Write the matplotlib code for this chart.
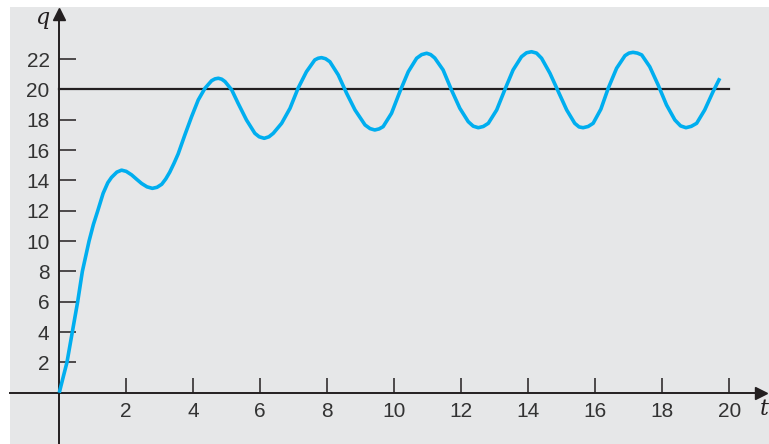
import numpy as np
import matplotlib.pyplot as plt

# curve
t_pts = [0, 0.12, 0.23, 0.39, 0.55, 0.69, 0.89, 1.02, 1.15, 1.31, 1.45, 1.56, 1.72, 1.86, 2.0, 2.16,
         2.31, 2.46, 2.62, 2.78, 2.92, 3.06, 3.18, 3.3, 3.43, 3.55, 3.75, 3.95, 4.15, 4.35, 4.55,
         4.65, 4.75, 4.85, 4.95, 5.15, 5.34, 5.59, 5.84, 5.97, 6.12, 6.26, 6.39, 6.64, 6.89, 7.13,
         7.38, 7.63, 7.73, 7.83, 7.95, 8.08, 8.33, 8.58, 8.83, 9.13, 9.28, 9.42, 9.55, 9.67, 9.92,
         10.17, 10.42, 10.67, 10.82, 10.97, 11.09, 11.21, 11.46, 11.71, 11.96, 12.21, 12.36, 12.51,
         12.66, 12.81, 13.06, 13.3, 13.55, 13.8, 13.95, 14.1, 14.25, 14.4, 14.65, 14.9, 15.15, 15.39,
         15.52, 15.64, 15.79, 15.94, 16.17, 16.39, 16.64, 16.89, 17.01, 17.13, 17.26, 17.39, 17.63,
         17.88, 18.13, 18.38, 18.55, 18.71, 18.87, 19.03, 19.27, 19.52, 19.72]
q_pts = [0, 1.05, 2, 4, 6, 8, 10, 11.1, 12, 13.15, 13.85, 14.2, 14.55, 14.68, 14.6, 14.37,
         14.08, 13.8, 13.58, 13.48, 13.55, 13.75, 14.1, 14.55, 15.15, 15.75, 17.0, 18.2, 19.31, 20.08, 20.58,
         20.7, 20.74, 20.68, 20.52, 19.97, 19.09, 17.99, 17.11, 16.88, 16.78, 16.88, 17.11, 17.77, 18.76, 20.08,
         21.17, 21.95, 22.06, 22.1, 22.03, 21.83, 20.96, 19.75, 18.65, 17.66, 17.42, 17.33, 17.4, 17.55, 18.43,
         19.86, 21.17, 22.06, 22.3, 22.39, 22.3, 22.08, 21.29, 19.97, 18.76, 17.88, 17.58, 17.48,
         17.56, 17.77, 18.65, 19.97, 21.29, 22.16, 22.42, 22.49, 22.4, 22.06, 21.07, 19.86, 18.65, 17.77,
         17.53, 17.48, 17.56, 17.77, 18.7, 20.08, 21.4, 22.23, 22.4, 22.45, 22.4, 22.28, 21.5,
         20.3, 18.98, 17.99, 17.6, 17.48, 17.57, 17.77, 18.65, 19.86, 20.74]

x_ticks = [2, 4, 6, 8, 10, 12, 14, 16, 18, 20]
y_ticks = [2, 4, 6, 8, 10, 12, 14, 16, 18, 20, 22]
q_level = 20

axis_col = '#231f20'
curve_col = '#00aeef'
bg_col = '#e6e7e8'

fig = plt.figure(figsize=(7.69, 4.44), dpi=100, facecolor='white')
ax = fig.add_axes([10/769, 0, 759/769, 437/444], facecolor=bg_col)
ax.set_xlim(-1.47, 21.19)
ax.set_ylim(-3.38, 25.44)

plt.rcParams['font.family'] = ['Liberation Sans', 'DejaVu Sans']

ax.plot([0, 20], [q_level, q_level], color=axis_col, lw=1.6, zorder=2)
ax.plot(t_pts, q_pts, color=curve_col, lw=2.6, solid_capstyle='butt',
        solid_joinstyle='round', zorder=3)

for s in ['top', 'right']:
    ax.spines[s].set_visible(False)
ax.spines['left'].set_position(('data', 0))
ax.spines['bottom'].set_position(('data', 0))
ax.spines['left'].set_bounds(-3.38, 25.0)
ax.spines['bottom'].set_bounds(-1.47, 20.9)
for s in ['left', 'bottom']:
    ax.spines[s].set_color(axis_col)
    ax.spines[s].set_linewidth(1.4)

# arrow heads
ax.plot(0, 25.0, marker='^', ms=8, color=axis_col, clip_on=False, zorder=4)
ax.plot(20.95, 0, marker='>', ms=8, color=axis_col, clip_on=False, zorder=4)

ax.set_xticks(x_ticks)
ax.set_yticks(y_ticks)
ax.set_xticklabels([str(v) for v in x_ticks], fontsize=15, color='#333333')
ax.set_yticklabels([str(v) for v in y_ticks], fontsize=15, color='#333333')
ax.tick_params(axis='x', direction='in', length=11, width=1.1, color=axis_col, pad=7)
ax.tick_params(axis='y', direction='in', length=12.5, width=1.1, color=axis_col, pad=7)

ax.text(-0.52, 24.7, 'q', fontsize=16, fontstyle='italic', family='DejaVu Serif',
        ha='center', va='center', color=axis_col)
ax.text(21.17, -1.1, 't', fontsize=16, fontstyle='italic', family='DejaVu Serif',
        ha='right', va='center', color=axis_col, clip_on=False)

fig.savefig('out.png', dpi=100, facecolor='white')
